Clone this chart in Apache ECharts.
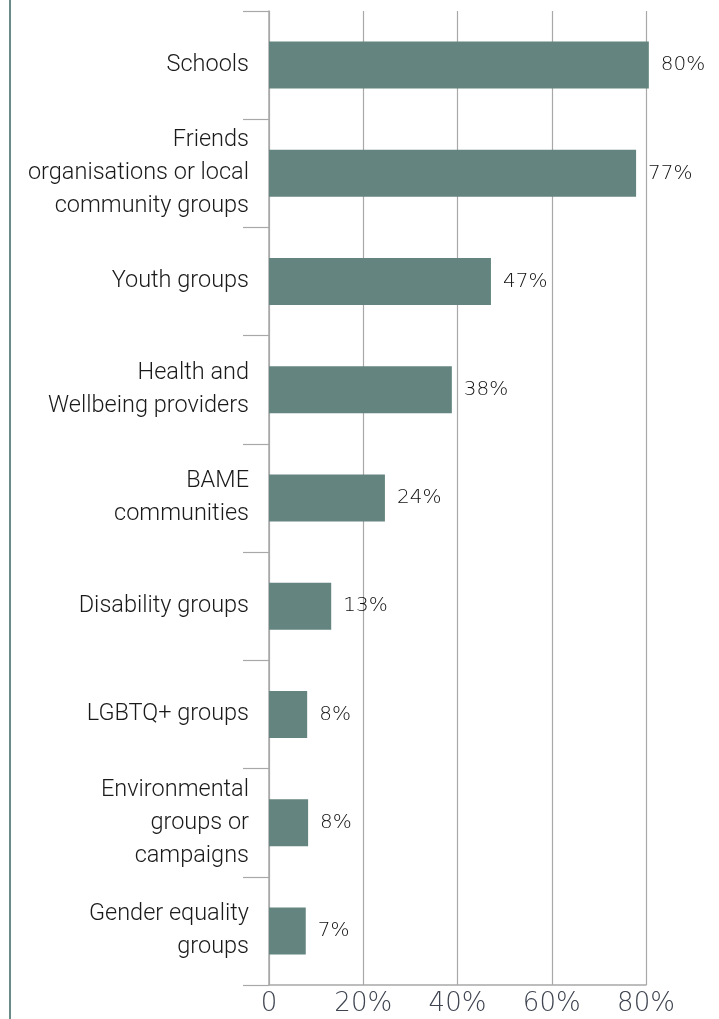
<!DOCTYPE html>
<html>
<head>
<meta charset="utf-8">
<script src="https://cdn.jsdelivr.net/npm/echarts@6/dist/echarts.min.js"></script>
<style>
html,body{margin:0;padding:0;background:#fff;}
#chart{width:719px;height:1019px;}
</style>
</head>
<body>
<div id="chart"></div>
<script>
const categories = [
  "Schools",
  "Friends\norganisations or local\ncommunity groups",
  "Youth groups",
  "Health and\nWellbeing providers",
  "BAME\ncommunities",
  "Disability groups",
  "LGBTQ+ groups",
  "Environmental\ngroups or\ncampaigns",
  "Gender equality\ngroups"
];
const values = [80.6, 77.9, 47.1, 38.8, 24.6, 13.2, 8.1, 8.3, 7.8];
const valueLabels = ["80%", "77%", "47%", "38%", "24%", "13%", "8%", "8%", "7%"];
const xTicks = [0, 20, 40, 60, 80];

const chart = echarts.init(document.getElementById('chart'), null, {renderer: 'canvas'});
const option = {
  animation: false,
  grid: {left: 269, right: 73, top: 11, bottom: 34, containLabel: false},
  graphic: [{
    type: 'rect',
    shape: {x: 9, y: 0, width: 2, height: 1019},
    style: {fill: '#6a8c88'}
  }],
  xAxis: {
    type: 'value', min: 0, max: 80, interval: 20,
    axisLine: {show: true, lineStyle: {color: '#a8a8a8', width: 1.5}},
    axisTick: {show: false},
    splitLine: {show: true, lineStyle: {color: '#a8a8a8', width: 1.2}},
    axisLabel: {
      fontFamily: 'DejaVu Sans', fontWeight: 200, fontSize: 26, color: '#3e4450', margin: 6,
      formatter: v => xTicks.indexOf(v) === 0 ? '0' : v + '%'
    }
  },
  yAxis: {
    type: 'category', data: categories, inverse: true,
    axisLine: {show: true, lineStyle: {color: '#a8a8a8', width: 1.5}},
    axisTick: {show: true, length: 26, lineStyle: {color: '#a8a8a8', width: 1.2}},
    axisLabel: {
      fontFamily: 'Roboto', fontWeight: 300, fontSize: 23.5, color: '#1a1a1a',
      lineHeight: 33, margin: 20, align: 'right'
    }
  },
  series: [{
    type: 'bar', data: values, barWidth: 47, clip: false,
    itemStyle: {color: '#64857f'},
    label: {
      show: true, position: 'right', distance: 12,
      fontFamily: 'DejaVu Sans', fontWeight: 200, fontSize: 20, color: '#111111',
      formatter: p => valueLabels[p.dataIndex]
    }
  }]
};
chart.setOption(option);
</script>
</body>
</html>
